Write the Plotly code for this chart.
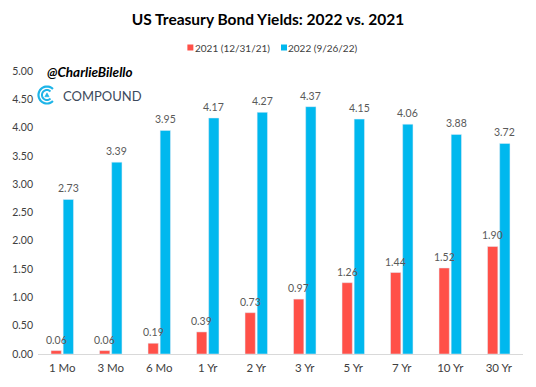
import math
import plotly.graph_objects as go

categories = ["1 Mo", "3 Mo", "6 Mo", "1 Yr", "2 Yr", "3 Yr", "5 Yr", "7 Yr", "10 Yr", "30 Yr"]
yields_2021 = [0.06, 0.06, 0.19, 0.39, 0.73, 0.97, 1.26, 1.44, 1.52, 1.90]
yields_2022 = [2.73, 3.39, 3.95, 4.17, 4.27, 4.37, 4.15, 4.06, 3.88, 3.72]
series_names = ["2021 (12/31/21)", "2022 (9/26/22)"]
tick_vals = [0, 0.5, 1, 1.5, 2, 2.5, 3, 3.5, 4, 4.5, 5]

RED = "#FF5048"
BLUE = "#00B8EE"
FONT = "Lato, Open Sans, sans-serif"

W, H = 536, 387
L, R, T, B = 36, 13, 71, 33
PW, PH = W - L - R, H - T - B

def px(x):
    return (x - L) / PW

def py(y):
    return (H - B - y) / PH

fig = go.Figure()
fig.add_trace(go.Bar(x=categories, y=yields_2021, name=series_names[0],
                     marker_color=RED, showlegend=False))
fig.add_trace(go.Bar(x=categories, y=yields_2022, name=series_names[1],
                     marker_color=BLUE, showlegend=False))

BARGAP, GROUPGAP = 0.5, 0.15
slot = (1 - BARGAP) / 2  # in category units
for series, sign in [(yields_2021, -1), (yields_2022, 1)]:
    for c, v in zip(categories, series):
        fig.add_annotation(x=c, y=v, xref="x", yref="y", text=f"{v:.2f}",
                           showarrow=False, yanchor="bottom",
                           xshift=sign * slot / 2 * PW / len(categories), yshift=3,
                           font=dict(size=10.5, color="#595959", family=FONT))

fig.update_layout(
    width=W, height=H,
    margin=dict(l=L, r=R, t=T, b=B),
    paper_bgcolor="white", plot_bgcolor="white",
    font=dict(family=FONT, size=11, color="#404040"),
    barmode="group", bargap=BARGAP, bargroupgap=GROUPGAP,
    title=dict(text="<b>US Treasury Bond Yields: 2022 vs. 2021</b>",
               x=268 / W, xanchor="center", y=1 - 20 / H, yanchor="middle",
               font=dict(size=15.5, color="black", family=FONT)),
    showlegend=False,
)
fig.update_xaxes(showline=True, linecolor="#D9D9D9", linewidth=1, ticks="",
                 tickfont=dict(size=11.5, color="#404040"), showgrid=False,
                 ticklabelstandoff=3)
fig.update_yaxes(range=[0, 5], tickvals=tick_vals, tickformat=".2f", showgrid=False,
                 zeroline=False, showline=False, tickfont=dict(size=10.5, color="#404040"),
                 ticklabelstandoff=4)

# manual legend
for (x0, name, col) in [(186, series_names[0], RED), (280, series_names[1], BLUE)]:
    fig.add_shape(type="rect", xref="paper", yref="paper",
                  x0=px(x0), x1=px(x0 + 6), y0=py(50.5), y1=py(44.5),
                  fillcolor=col, line=dict(width=0))
    fig.add_annotation(xref="paper", yref="paper", x=px(x0 + 5.5), y=py(47.5),
                       xanchor="left", yanchor="middle", text=name, showarrow=False,
                       font=dict(size=10, color="#404040", family=FONT))

# watermark
fig.add_annotation(xref="paper", yref="paper", x=px(43), y=py(72), xanchor="left", yanchor="middle",
                   text="<b><i>@CharlieBilello</i></b>", showarrow=False,
                   font=dict(size=13.5, color="black", family=FONT))
fig.add_annotation(xref="paper", yref="paper", x=px(59), y=py(96), xanchor="left", yanchor="middle",
                   text="COMPOUND", showarrow=False,
                   font=dict(size=13, color="#3D4A5C", family=FONT))
cx, cy = 45, 95

def arc(r, a0, a1, n=30):
    pts = []
    for i in range(n + 1):
        a = math.radians(a0 + (a1 - a0) * i / n)
        pts.append((cx + r * math.cos(a), cy - r * math.sin(a)))
    return pts

for r, w in [(8.5, 2.2), (5, 2.0)]:
    pts = arc(r, 45, 315)
    d = "M " + " L ".join(f"{px(x):.4f},{py(y):.4f}" for x, y in pts)
    fig.add_shape(type="path", xref="paper", yref="paper", path=d,
                  line=dict(color="#1DB4E8", width=w))
tri = [(cx, cy - 2.2), (cx - 2.2, cy + 1.8), (cx + 2.2, cy + 1.8)]
d = "M " + " L ".join(f"{px(x):.4f},{py(y):.4f}" for x, y in tri) + " Z"
fig.add_shape(type="path", xref="paper", yref="paper", path=d,
              fillcolor="#1DB4E8", line=dict(color="#1DB4E8", width=0.5))

fig.write_html("out.html", config={"displayModeBar": False},
               post_script="document.body.style.margin='0';")
